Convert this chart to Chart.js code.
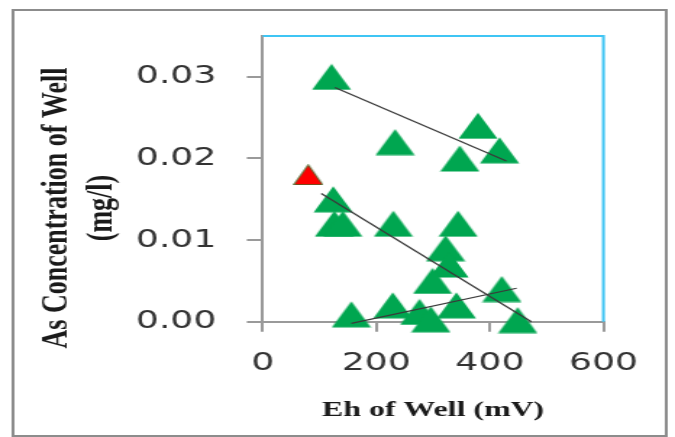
<!DOCTYPE html>
<html>
<head>
<meta charset="utf-8">
<script src="https://cdn.jsdelivr.net/npm/chart.js@4"></script>
<style>
  html, body { margin: 0; padding: 0; background: #fff; overflow: hidden; }
  #wrap { width: 675px; height: 437px; position: relative; overflow: hidden; }
  /* the chart is laid out on a narrower canvas and widened to the page width */
  #c { position: absolute; left: 0; top: 0; transform-origin: 0 0; transform: scaleX(1.4485); }
</style>
</head>
<body>
<div id="wrap"><canvas id="c" width="466" height="437"></canvas></div>
<script>
// Eh (mV) and arsenic concentration (mg/l) of the sampled wells
const ehWell = [121, 233, 379, 347, 417, 124, 126, 141, 230, 344, 322, 328, 299, 421, 229, 341, 276, 156, 296, 449];
const asWell = [0.030, 0.022, 0.024, 0.020, 0.021, 0.015, 0.012, 0.012, 0.012, 0.012, 0.009, 0.007, 0.005, 0.004, 0.002, 0.002, 0.0012, 0.0009, 0.0003, 0.0002];

// highlighted well
const ehMarked = [80];
const asMarked = [0.018];

// fitted trend lines (end points)
const upperTrendEh = [127, 429];
const upperTrendAs = [0.0287, 0.0197];
const middleTrendEh = [103, 473];
const middleTrendAs = [0.0157, 0.0];
const lowerTrendEh = [156, 447];
const lowerTrendAs = [-0.0002, 0.0041];

// axis ticks and titles
const xTicks = [0, 200, 400, 600];
const yTicks = [0.00, 0.01, 0.02, 0.03];
const xTitle = 'Eh of Well (mV)';
const yTitle = ['As Concentration of Well', '(mg/l)'];

const pairs = (xs, ys) => xs.map((x, i) => ({ x: x, y: ys[i] }));

function triangleMarker(w, h, fill, stroke) {
  const c = document.createElement('canvas');
  c.width = w; c.height = h;
  const g = c.getContext('2d');
  g.beginPath();
  g.moveTo(w / 2, 0.5);
  g.lineTo(w - 0.5, h - 0.5);
  g.lineTo(0.5, h - 0.5);
  g.closePath();
  g.fillStyle = fill;
  g.fill();
  if (stroke) { g.strokeStyle = stroke; g.lineWidth = 1; g.stroke(); }
  return c;
}
const greenTri = triangleMarker(28, 27, '#00a650', null);
const redTri = triangleMarker(21, 21, '#ff0000', '#3d6e2a');

const frames = {
  id: 'frames',
  beforeDraw(chart) {
    const { ctx } = chart;
    ctx.save();
    ctx.fillStyle = '#fff';
    ctx.fillRect(0, 0, chart.width, chart.height);
    ctx.strokeStyle = '#8c8c8c';
    ctx.lineWidth = 2;
    ctx.strokeRect(9, 10, 451, 426);
    ctx.restore();
  },
  beforeDatasetsDraw(chart) {
    const { ctx, chartArea: a } = chart;
    ctx.save();
    ctx.strokeStyle = '#3fc5f4';
    ctx.lineWidth = 2;
    ctx.beginPath();
    ctx.moveTo(a.left, a.top);
    ctx.lineTo(a.right, a.top);
    ctx.lineTo(a.right, a.bottom);
    ctx.stroke();
    ctx.restore();
  }
};

const trendStyle = { showLine: true, pointRadius: 0, borderColor: '#3a3a3a', borderWidth: 1.2, fill: false, clip: false, order: 0 };

new Chart(document.getElementById('c'), {
  type: 'scatter',
  data: {
    datasets: [
      { label: 'Wells', data: pairs(ehWell, asWell), pointStyle: greenTri, pointRadius: 14, clip: false, order: 2 },
      { label: 'Marked well', data: pairs(ehMarked, asMarked), pointStyle: redTri, pointRadius: 11, clip: false, order: 1 },
      Object.assign({ label: 'Trend 1', data: pairs(upperTrendEh, upperTrendAs) }, trendStyle),
      Object.assign({ label: 'Trend 2', data: pairs(middleTrendEh, middleTrendAs) }, trendStyle),
      Object.assign({ label: 'Trend 3', data: pairs(lowerTrendEh, lowerTrendAs) }, trendStyle)
    ]
  },
  options: {
    responsive: false,
    animation: false,
    devicePixelRatio: 1,
    layout: { padding: { left: 0, right: 49.4, top: 0, bottom: 21 } },
    plugins: {
      legend: { display: false },
      tooltip: { enabled: false },
      title: {
        display: true, position: 'left', text: yTitle, color: '#1a1a1a',
        font: { family: 'Liberation Serif', size: 26, weight: 'bold', lineHeight: 1.2 },
        padding: { top: 23.5, bottom: 0 }
      },
      subtitle: {
        display: true, position: 'top', text: '',
        font: { size: 10, lineHeight: 1 },
        padding: { top: 21, bottom: 0 }
      }
    },
    scales: {
      x: {
        type: 'linear', position: 'bottom',
        min: xTicks[0], max: xTicks[xTicks.length - 1],
        afterBuildTicks: s => { s.ticks = xTicks.map(v => ({ value: v })); },
        ticks: { color: '#333', padding: 17, maxRotation: 0, font: { family: 'DejaVu Sans', size: 25 } },
        grid: { display: true, drawOnChartArea: false, drawTicks: true, tickLength: 10, color: '#9a9a9a', lineWidth: 2 },
        border: { display: true, color: '#9a9a9a', width: 2 },
        title: {
          display: true, text: xTitle, color: '#1a1a1a',
          font: { family: 'Liberation Serif', size: 22, weight: 'bold', lineHeight: 0.55 },
          padding: { top: 0, bottom: 0 }
        },
        afterFit: s => { s.height = 94.3; }
      },
      y: {
        type: 'linear', position: 'left',
        min: 0, max: 0.035,
        afterBuildTicks: s => { s.ticks = yTicks.map(v => ({ value: v })); },
        ticks: { color: '#333', padding: 21, font: { family: 'DejaVu Sans', size: 25 }, callback: v => v.toFixed(2) },
        grid: { display: true, drawOnChartArea: false, drawTicks: true, tickLength: 11, color: '#9a9a9a', lineWidth: 2 },
        border: { display: true, color: '#9a9a9a', width: 2 },
        afterFit: s => { s.width = 95.5; }
      }
    }
  },
  plugins: [frames]
});
</script>
</body>
</html>
